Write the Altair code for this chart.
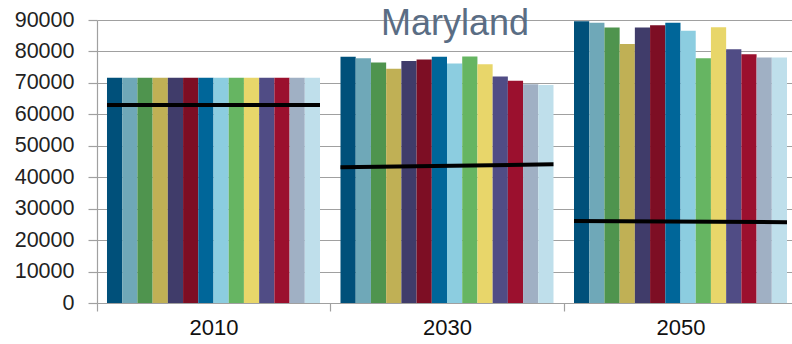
import altair as alt
import pandas as pd

title_text = ["Maryland"]
years = ["2010", "2030", "2050"]
series = ["s01", "s02", "s03", "s04", "s05", "s06", "s07",
          "s08", "s09", "s10", "s11", "s12", "s13", "s14"]
colors = ["#00507a", "#6fa8b8", "#4f944e", "#c0b055", "#403c6a", "#7d0e24", "#006699",
          "#8ccde0", "#66b562", "#e8d66a", "#504c85", "#9b102e", "#a0b0c4", "#bfdfeb"]
y_ticks = [0, 10000, 20000, 30000, 40000, 50000, 60000, 70000, 80000, 90000]

v2010 = [71600, 71600, 71600, 71600, 71600, 71600, 71600,
         71600, 71600, 71600, 71600, 71600, 71600, 71600]
v2030 = [78300, 77800, 76500, 74500, 77000, 77400, 78300,
         76200, 78400, 75900, 72000, 70700, 69600, 69300]
v2050 = [89600, 89100, 87600, 82400, 87600, 88300, 89100,
         86600, 77800, 87700, 80700, 79100, 78100, 78100]

target_start = [63000, 43200, 26100]
target_end = [63000, 44100, 25700]

rows = []
for yr, vals in zip(years, [v2010, v2030, v2050]):
    for s, v in zip(series, vals):
        rows.append({"year": yr, "series": s, "value": v})
bars_df = pd.DataFrame(rows)

line_df = pd.DataFrame({
    "year": years + years,
    "end": ["start"] * 3 + ["end"] * 3,
    "value": target_start + target_end,
})

font = "Liberation Sans"
x_scale = alt.Scale(domain=years, range=[0, 700], paddingInner=0.0878, paddingOuter=0.0428)
y_scale = alt.Scale(domain=[0, 90000])

x_axis = alt.Axis(title=None, labelAngle=0, tickOffset=-116.75, labelOffset=116.75,
                  tickSize=8, labelFontSize=22, labelFont=font, labelColor="#111",
                  labelPadding=6, grid=False, labelOverlap=False)
y_axis = alt.Axis(title=None, values=y_ticks, format="d",
                  tickSize=9, labelPadding=14, labelFontSize=21.5, labelFont=font,
                  labelColor="#222", grid=True, labelOverlap=False)

bars = alt.Chart(bars_df).mark_bar().encode(
    x=alt.X("year:N", scale=x_scale, sort=years, axis=x_axis),
    xOffset=alt.XOffset("series:N", sort=series,
                        scale=alt.Scale(domain=series, paddingInner=0, paddingOuter=0)),
    y=alt.Y("value:Q", scale=y_scale, axis=y_axis),
    color=alt.Color("series:N", scale=alt.Scale(domain=series, range=colors), legend=None),
)

line = alt.Chart(line_df).mark_line(color="black", strokeWidth=4).encode(
    x=alt.X("year:N", scale=x_scale, sort=years, axis=x_axis),
    xOffset=alt.XOffset("end:N", scale=alt.Scale(type="point", domain=["start", "end"], padding=0)),
    y=alt.Y("value:Q", scale=y_scale, axis=y_axis),
    detail="year:N",
)

title = alt.Chart(pd.DataFrame({"t": title_text})).mark_text(
    fontSize=36, font=font, color="#5a6d84", align="center", baseline="alphabetic"
).encode(text="t:N", x=alt.value(358), y=alt.value(15))

chart = alt.layer(bars, line, title).resolve_scale(xOffset="independent").properties(
    width=695, height=283,
    autosize=alt.AutoSizeParams(type="none"),
    padding={"left": 97, "top": 20, "right": 0, "bottom": 41},
).configure_view(stroke=None).configure_axis(
    gridColor="#a0a0a0", domainColor="#a0a0a0", tickColor="#a0a0a0",
    gridWidth=1.2, domainWidth=1.2, tickWidth=1.2,
)

chart.save("out.html", embed_options={"renderer": "svg", "actions": False})
